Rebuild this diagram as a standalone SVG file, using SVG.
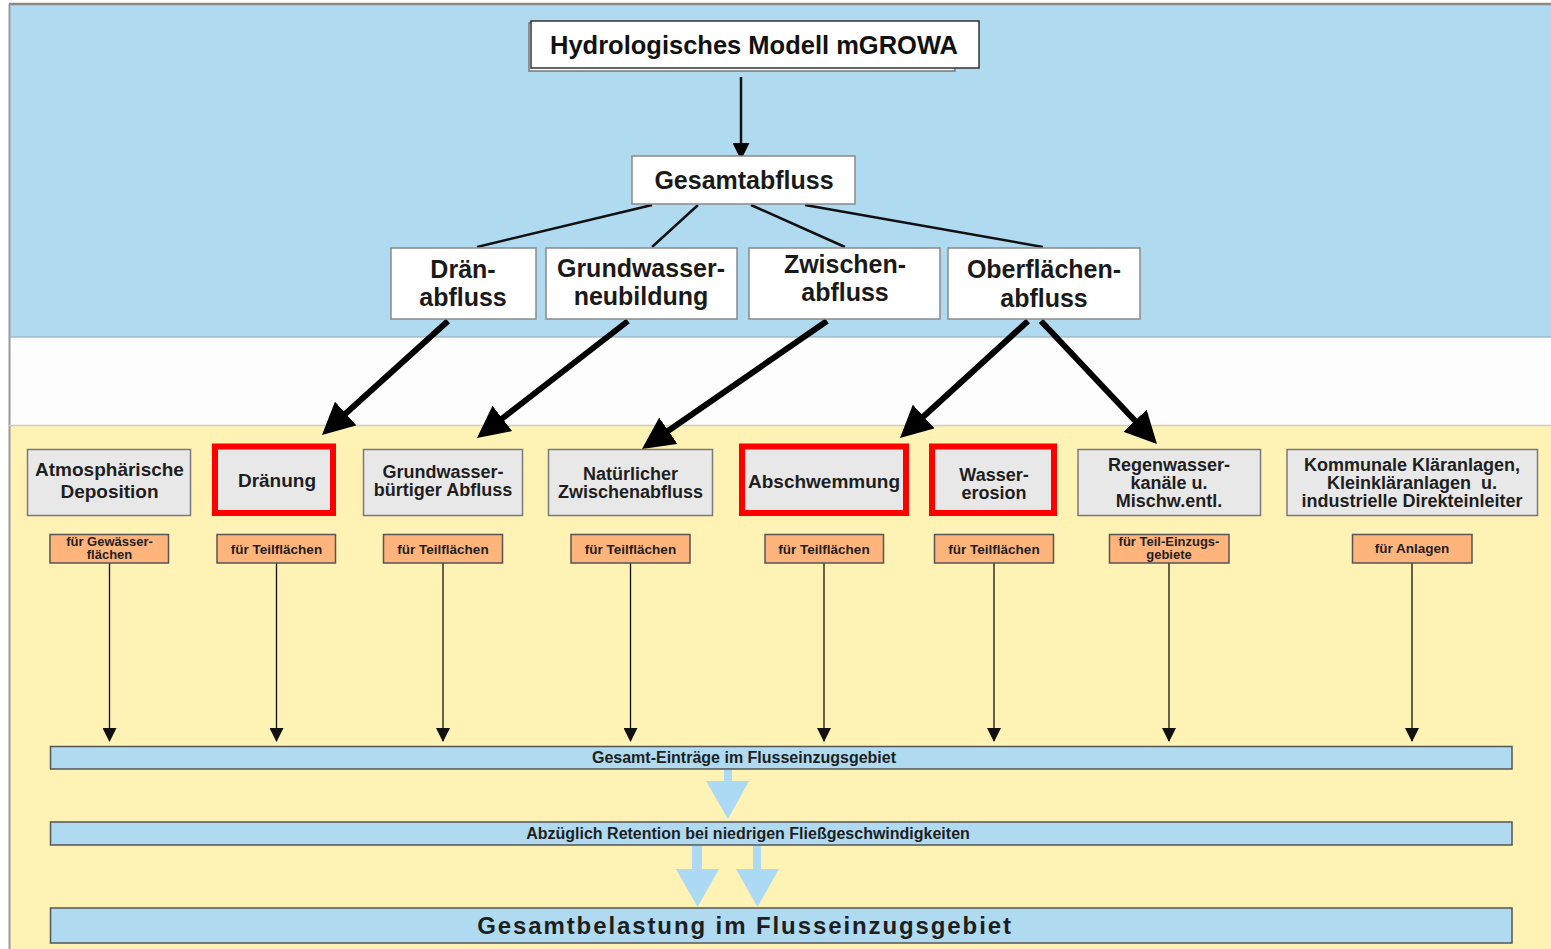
<svg xmlns="http://www.w3.org/2000/svg" width="1551" height="949" viewBox="0 0 1551 949">
<defs>
<style>
text{font-family:"Liberation Sans",Arial,sans-serif;font-weight:bold;text-anchor:middle;fill:#1e1e1e}
.t1{font-size:25.5px;fill:#111}
.t2{font-size:25px;fill:#1a1a1a}
.t3{font-size:19px}
.t3n{font-size:18px}
.t4{font-size:13.5px}
.t4s{font-size:13px}
.t5{font-size:16px}
.t6{font-size:24px;letter-spacing:1.9px}
.wbox{fill:#fff;stroke:#8a8a8a;stroke-width:1.5}
.gbox{fill:#e8e8e8;stroke:#7a7a7a;stroke-width:1.5}
.rbox{fill:#e8e8e8;stroke:#ff0000;stroke-width:6}
.obox{fill:#ffb47c;stroke:#555;stroke-width:1.5}
.bar{fill:#afdaf0;stroke:#555;stroke-width:1.5}
.thin{stroke:#111;stroke-width:2.5;fill:none}
.thick{stroke:#000;stroke-width:6;fill:none;marker-end:url(#bigHead)}
.drop{stroke:#111;stroke-width:1.3;fill:none;marker-end:url(#smallHead)}
.lb{fill:#acd9f3}
</style>
<marker id="bigHead" markerUnits="userSpaceOnUse" viewBox="0 0 32 32" markerWidth="32" markerHeight="32" refX="22" refY="16" orient="auto">
<path d="M0,0 L32,16 L0,32 z" fill="#000"/>
</marker>
<marker id="smallHead" markerUnits="userSpaceOnUse" viewBox="0 0 14 14" markerWidth="14" markerHeight="14" refX="13" refY="7" orient="auto">
<path d="M0,0 L14,7 L0,14 z" fill="#111"/>
</marker>
<marker id="midHead" markerUnits="userSpaceOnUse" viewBox="0 0 17 17" markerWidth="17" markerHeight="17" refX="15" refY="8.5" orient="auto">
<path d="M0,0 L17,8.5 L0,17 z" fill="#000"/>
</marker>
</defs>

<g id="background">
<rect x="0" y="0" width="1551" height="949" fill="#ffffff"/>
<rect x="9" y="4" width="1542" height="333" fill="#afdaf0"/>
<rect x="9" y="337" width="1542" height="88" fill="#fdfdfd"/>
<rect x="9" y="425" width="1542" height="524" fill="#fff2b5"/>
<line x1="9" y1="4" x2="1551" y2="4" stroke="#888" stroke-width="2.5"/>
<line x1="9.5" y1="4" x2="9.5" y2="949" stroke="#999" stroke-width="2"/>
<line x1="9" y1="337" x2="1551" y2="337" stroke="#8aa8b8" stroke-width="1"/>
<line x1="9" y1="425.5" x2="1551" y2="425.5" stroke="#ccc" stroke-width="1.5"/>
</g>

<g id="connectors">
<line class="thin" x1="741" y1="77" x2="741" y2="158" marker-end="url(#midHead)"/>
<line class="thin" x1="652" y1="205" x2="477" y2="247"/>
<line class="thin" x1="698" y1="205" x2="652" y2="247"/>
<line class="thin" x1="751" y1="205" x2="845" y2="247"/>
<line class="thin" x1="805" y1="205" x2="1043" y2="247"/>
<line class="thick" x1="448" y1="321" x2="329.4" y2="428.3"/>
<line class="thick" x1="628" y1="321" x2="484.9" y2="431.9"/>
<line class="thick" x1="827" y1="321" x2="650.2" y2="443.3"/>
<line class="thick" x1="1028" y1="321" x2="907.4" y2="431.3"/>
<line class="thick" x1="1041" y1="321" x2="1150.1" y2="436.7"/>
<line class="drop" x1="109.5" y1="563" x2="109.5" y2="741"/>
<line class="drop" x1="276.5" y1="563" x2="276.5" y2="741"/>
<line class="drop" x1="443" y1="563" x2="443" y2="741"/>
<line class="drop" x1="630.5" y1="563" x2="630.5" y2="741"/>
<line class="drop" x1="824" y1="563" x2="824" y2="741"/>
<line class="drop" x1="994" y1="563" x2="994" y2="741"/>
<line class="drop" x1="1169" y1="563" x2="1169" y2="741"/>
<line class="drop" x1="1412" y1="563" x2="1412" y2="741"/>
<polygon class="lb" points="724,770 732,770 732,781 749,781 728,819 706,781 724,781"/>
<polygon class="lb" points="692,846 702,846 702,869 719,869 697.5,907 676,869 692,869"/>
<polygon class="lb" points="753,846 761,846 761,869 779,869 757.5,907 736,869 753,869"/>
</g>

<g id="node-mgrowa">
<rect x="529" y="23" width="426" height="48" fill="#fff" stroke="#777" stroke-width="1.5"/>
<rect x="531" y="21" width="448" height="47" fill="#fff" stroke="#333" stroke-width="1.5"/>
<text class="t1" x="754" y="54">Hydrologisches Modell mGROWA</text>
</g>

<g id="node-gesamtabfluss">
<rect class="wbox" x="632" y="156" width="223" height="48"/>
<text class="t2" x="744" y="189">Gesamtabfluss</text>
</g>

<g id="node-draenabfluss">
<rect class="wbox" x="391" y="248" width="145" height="71"/>
<text class="t2" x="463" y="278">Drän-</text>
<text class="t2" x="463" y="306">abfluss</text>
</g>

<g id="node-grundwasserneubildung">
<rect class="wbox" x="546" y="248" width="191" height="71"/>
<text class="t2" x="641" y="277">Grundwasser-</text>
<text class="t2" x="641" y="305">neubildung</text>
</g>

<g id="node-zwischenabfluss">
<rect class="wbox" x="749" y="248" width="191" height="71"/>
<text class="t2" x="845" y="273">Zwischen-</text>
<text class="t2" x="845" y="301">abfluss</text>
</g>

<g id="node-oberflaechenabfluss">
<rect class="wbox" x="948" y="248" width="192" height="71"/>
<text class="t2" x="1044" y="278">Oberflächen-</text>
<text class="t2" x="1044" y="307">abfluss</text>
</g>

<g id="node-atmosphaerische">
<rect class="gbox" x="27.5" y="449.5" width="163" height="66"/>
<text class="t3" x="109.5" y="476">Atmosphärische</text>
<text class="t3" x="109.5" y="498">Deposition</text>
</g>

<g id="node-draenung">
<rect class="rbox" x="215" y="446.5" width="118" height="66.5"/>
<text class="t3" x="277" y="487">Dränung</text>
</g>

<g id="node-grundwasserbuertig">
<rect class="gbox" x="363.5" y="449.5" width="159" height="66"/>
<text class="t3n" x="443" y="478">Grundwasser-</text>
<text class="t3n" x="443" y="496">bürtiger Abfluss</text>
</g>

<g id="node-natuerlicher">
<rect class="gbox" x="548.5" y="449.5" width="164" height="66"/>
<text class="t3n" x="630.5" y="480">Natürlicher</text>
<text class="t3n" x="630.5" y="498">Zwischenabfluss</text>
</g>

<g id="node-abschwemmung">
<rect class="rbox" x="742" y="446.5" width="164" height="66.5"/>
<text class="t3" x="824" y="488">Abschwemmung</text>
</g>

<g id="node-wassererosion">
<rect class="rbox" x="932" y="446.5" width="122" height="66.5"/>
<text class="t3n" x="994" y="481">Wasser-</text>
<text class="t3n" x="994" y="499">erosion</text>
</g>

<g id="node-regenwasser">
<rect class="gbox" x="1078" y="449.5" width="182.5" height="66"/>
<text class="t3n" x="1169" y="471">Regenwasser-</text>
<text class="t3n" x="1169" y="489">kanäle u.</text>
<text class="t3n" x="1169" y="507">Mischw.entl.</text>
</g>

<g id="node-kommunale">
<rect class="gbox" x="1287" y="449.5" width="250.5" height="66"/>
<text class="t3n" x="1412" y="471">Kommunale Kläranlagen,</text>
<text class="t3n" x="1412" y="489">Kleinkläranlagen&#160; u.</text>
<text class="t3n" x="1412" y="507">industrielle Direkteinleiter</text>
</g>

<g id="label-gewaesserflaechen">
<rect class="obox" x="50" y="534.5" width="118.5" height="28.5"/>
<text class="t4s" x="109.5" y="546">für Gewässer-</text>
<text class="t4s" x="109.5" y="559">flächen</text>
</g>
<g id="label-teilflaechen-1">
<rect class="obox" x="217" y="534.5" width="118.5" height="28.5"/>
<text class="t4" x="276.5" y="553.5">für Teilflächen</text>
</g>
<g id="label-teilflaechen-2">
<rect class="obox" x="383.5" y="534.5" width="119" height="28.5"/>
<text class="t4" x="443" y="553.5">für Teilflächen</text>
</g>
<g id="label-teilflaechen-3">
<rect class="obox" x="571" y="534.5" width="119" height="28.5"/>
<text class="t4" x="630.5" y="553.5">für Teilflächen</text>
</g>
<g id="label-teilflaechen-4">
<rect class="obox" x="765" y="534.5" width="118.5" height="28.5"/>
<text class="t4" x="824" y="553.5">für Teilflächen</text>
</g>
<g id="label-teilflaechen-5">
<rect class="obox" x="934.5" y="534.5" width="119" height="28.5"/>
<text class="t4" x="994" y="553.5">für Teilflächen</text>
</g>
<g id="label-teileinzugsgebiete">
<rect class="obox" x="1109.5" y="534.5" width="119.5" height="28.5"/>
<text class="t4s" x="1169" y="546">für Teil-Einzugs-</text>
<text class="t4s" x="1169" y="559">gebiete</text>
</g>
<g id="label-anlagen">
<rect class="obox" x="1352.5" y="534.5" width="119.5" height="28.5"/>
<text class="t4" x="1412" y="553">für Anlagen</text>
</g>

<g id="bar-gesamteintraege">
<rect class="bar" x="50.5" y="746.5" width="1461.5" height="22.5"/>
<text class="t5" x="744" y="763">Gesamt-Einträge im Flusseinzugsgebiet</text>
</g>

<g id="bar-retention">
<rect class="bar" x="50.5" y="822" width="1461.5" height="23"/>
<text class="t5" x="748" y="838.5">Abzüglich Retention bei niedrigen Fließgeschwindigkeiten</text>
</g>

<g id="bar-gesamtbelastung">
<rect class="bar" x="50.5" y="908" width="1461.5" height="35"/>
<text class="t6" x="745" y="934">Gesamtbelastung im Flusseinzugsgebiet</text>
</g>
</svg>
